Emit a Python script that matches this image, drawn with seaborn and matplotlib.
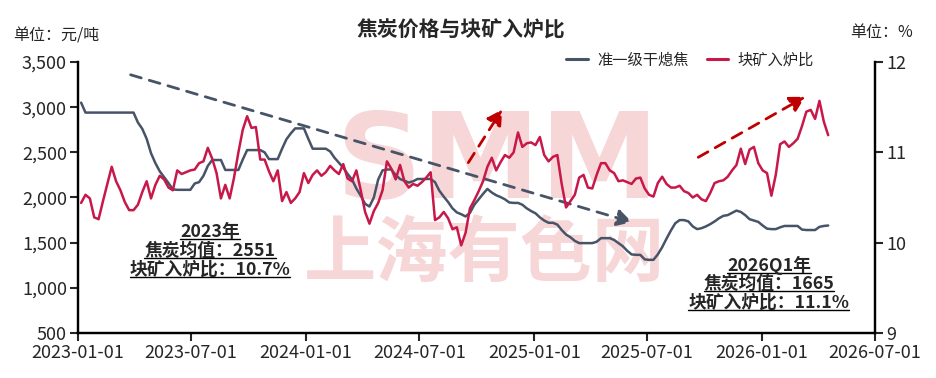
import matplotlib.pyplot as plt
import matplotlib.ticker as mticker
from matplotlib.lines import Line2D
import pandas as pd
import seaborn as sns

sns.set_style('white')
plt.rcParams['font.family'] = ['Noto Sans CJK SC', 'DejaVu Sans']
plt.rcParams['axes.unicode_minus'] = False

# weekly data, first week 2023-01-06
start_date = '2023-01-06'
coke = [3050, 2940, 2940, 2940, 2940, 2940, 2940, 2940, 2940, 2940,
        2940, 2940, 2940, 2830, 2760, 2650, 2490, 2380, 2290, 2225,
        2160, 2090, 2085, 2085, 2085, 2085, 2155, 2170, 2240, 2350,
        2415, 2415, 2415, 2305, 2305, 2305, 2305, 2420, 2525, 2525,
        2525, 2525, 2500, 2425, 2425, 2425, 2540, 2645, 2710, 2765,
        2765, 2765, 2650, 2540, 2540, 2540, 2540, 2510, 2440, 2385,
        2330, 2260, 2200, 2100, 2020, 1930, 1900, 2000, 2200, 2300,
        2310, 2310, 2250, 2205, 2185, 2165, 2180, 2205, 2205, 2205,
        2205, 2170, 2075, 2010, 1950, 1880, 1835, 1815, 1790, 1830,
        1920, 1980, 2040, 2095, 2055, 2025, 2005, 1980, 1945, 1940,
        1940, 1920, 1880, 1850, 1825, 1780, 1745, 1720, 1720, 1700,
        1640, 1590, 1560, 1520, 1495, 1495, 1495, 1495, 1510, 1550,
        1550, 1550, 1530, 1495, 1460, 1410, 1370, 1365, 1365, 1315,
        1310, 1310, 1370, 1450, 1545, 1635, 1715, 1750, 1750, 1735,
        1680, 1650, 1660, 1680, 1705, 1735, 1770, 1797, 1805, 1830,
        1855, 1840, 1805, 1760, 1745, 1730, 1690, 1655, 1650, 1650,
        1670, 1685, 1685, 1685, 1685, 1645, 1640, 1640, 1640, 1675,
        1685, 1690]
ratio = [10.44, 10.53, 10.49, 10.28, 10.26, 10.46, 10.65, 10.84, 10.68, 10.58,
         10.45, 10.36, 10.36, 10.42, 10.56, 10.68, 10.49, 10.64, 10.74, 10.70,
         10.61, 10.58, 10.80, 10.76, 10.78, 10.80, 10.81, 10.88, 10.90, 11.05,
         10.93, 10.77, 10.49, 10.64, 10.49, 10.72, 11.00, 11.25, 11.40, 11.27,
         11.28, 10.92, 10.92, 10.79, 10.68, 10.80, 10.46, 10.56, 10.44, 10.49,
         10.56, 10.77, 10.66, 10.75, 10.80, 10.74, 10.78, 10.85, 10.80, 10.76,
         10.87, 10.71, 10.68, 10.80, 10.58, 10.34, 10.21, 10.35, 10.44, 10.58,
         10.90, 10.82, 10.70, 10.86, 10.68, 10.61, 10.65, 10.63, 10.67, 10.72,
         10.78, 10.25, 10.28, 10.34, 10.27, 10.15, 10.17, 9.97, 10.11, 10.38,
         10.47, 10.57, 10.68, 10.84, 10.94, 10.80, 10.89, 10.97, 10.94, 11.00,
         11.22, 11.06, 11.10, 11.11, 11.08, 11.17, 10.97, 10.90, 10.95, 10.97,
         10.65, 10.39, 10.46, 10.53, 10.72, 10.75, 10.61, 10.60, 10.75, 10.88,
         10.88, 10.80, 10.77, 10.68, 10.69, 10.67, 10.65, 10.71, 10.72, 10.60,
         10.53, 10.51, 10.66, 10.73, 10.65, 10.61, 10.61, 10.63, 10.57, 10.55,
         10.50, 10.53, 10.48, 10.46, 10.55, 10.66, 10.68, 10.69, 10.73, 10.80,
         10.86, 11.04, 10.87, 11.03, 11.06, 10.88, 10.80, 10.77, 10.52, 10.75,
         11.09, 11.12, 11.06, 11.10, 11.15, 11.29, 11.45, 11.47, 11.37, 11.57,
         11.34, 11.19]
dates = pd.date_range(start_date, periods=len(coke), freq='7D')
xtick_labels = ['2023-01-01', '2023-07-01', '2024-01-01', '2024-07-01',
                '2025-01-01', '2025-07-01', '2026-01-01', '2026-07-01']
df = pd.DataFrame({'date': dates, 'coke': coke, 'ratio': ratio})

c_coke = '#475468'
c_ratio = '#C8184A'
c_arrow = '#C00000'
c_mark = '#F7D6D8'

W, H = 937, 378
fig = plt.figure(figsize=(W / 100, H / 100), dpi=100)
ax = fig.add_axes([78 / W, 1 - 333 / H, 797 / W, 271 / H])
ax2 = ax.twinx()

# watermark
ax.text(0.526, 0.50, 'SMM', transform=ax.transAxes, ha='center', va='baseline',
        fontsize=86, fontweight='bold', color=c_mark, zorder=0, family='DejaVu Sans')
ax.text(0.51, 0.29, '上海有色网', transform=ax.transAxes, ha='center', va='center',
        fontsize=52, fontweight='bold', color=c_mark, zorder=0)

sns.lineplot(data=df, x='date', y='coke', ax=ax, color=c_coke, lw=1.8, legend=False)
sns.lineplot(data=df, x='date', y='ratio', ax=ax2, color=c_ratio, lw=1.8, legend=False)

ax.set_ylim(500, 3500)
ax.set_yticks(range(500, 3501, 500))
ax.yaxis.set_major_formatter(mticker.StrMethodFormatter('{x:,.0f}'))
ax2.set_ylim(9, 12)
ax2.set_yticks([9, 10, 11, 12])
ax.set_xlim(pd.Timestamp('2023-01-01'), pd.Timestamp('2026-07-01'))
ax.set_xticks(pd.to_datetime(xtick_labels))
ax.set_xticklabels(xtick_labels)
for a in (ax, ax2):
    a.set_xlabel('')
    a.set_ylabel('')
    a.spines['top'].set_visible(False)
    for s in ('left', 'right', 'bottom'):
        a.spines[s].set_color('black')
        a.spines[s].set_linewidth(1.6)
ax.tick_params(axis='both', which='major', direction='out', length=6, width=1.5,
               labelsize=13, bottom=True, left=True, pad=2)
ax2.tick_params(axis='y', direction='out', length=6, width=1.5, labelsize=13, right=True, pad=2)

# trend arrows
arrow_kw = dict(arrowstyle='-|>,head_length=0.9,head_width=0.5', lw=2.0, linestyle=(0, (4, 3)))
ax.annotate('', xy=(pd.Timestamp('2025-06-11'), 1718), xytext=(pd.Timestamp('2023-03-22'), 3367),
            arrowprops=dict(color=c_coke, **arrow_kw), zorder=5)
ax2.annotate('', xy=(pd.Timestamp('2024-11-13'), 11.50), xytext=(pd.Timestamp('2024-09-15'), 10.86),
             arrowprops=dict(color=c_arrow, **arrow_kw), zorder=5)
ax2.annotate('', xy=(pd.Timestamp('2026-03-15'), 11.63), xytext=(pd.Timestamp('2025-09-17'), 10.93),
             arrowprops=dict(color=c_arrow, **arrow_kw), zorder=5)

# titles / units
fig.text(461 / W, 1 - 30 / H, '焦炭价格与块矿入炉比', ha='center', va='center',
         fontsize=15, fontweight='bold')
fig.text(13 / W, 1 - 36 / H, '单位：元/吨', ha='left', va='center', fontsize=11.5, style='italic')
fig.text(913 / W, 1 - 33 / H, '单位：%', ha='right', va='center', fontsize=11.5, style='italic')

handles = [Line2D([], [], color=c_coke, lw=2.2), Line2D([], [], color=c_ratio, lw=2.2)]
fig.legend(handles, ['准一级干熄焦', '块矿入炉比'], loc='center', bbox_to_anchor=(690 / W, 1 - 60 / H),
           ncol=2, frameon=False, fontsize=11, handlelength=1.4, columnspacing=1.2, handletextpad=0.6)

# summary notes (underlined)
notes = [
    (210, [232, 251, 270], ['2023年', '焦炭均值：2551', '块矿入炉比：10.7%']),
    (769, [265, 284, 303], ['2026Q1年', '焦炭均值：1665', '块矿入炉比：11.1%']),
]
texts = []
for cx, ys, lines in notes:
    for y, s in zip(ys, lines):
        t = fig.text(cx / W, 1 - y / H, s, ha='center', va='center', fontsize=12.8,
                     fontweight='black', style='italic', zorder=6)
        texts.append(t)

fig.canvas.draw()
renderer = fig.canvas.get_renderer()
for t in texts:
    bb = t.get_window_extent(renderer).transformed(fig.transFigure.inverted())
    fig.add_artist(Line2D([bb.x0, bb.x1], [bb.y0 + 0.004, bb.y0 + 0.004], color='black',
                          lw=1.0, transform=fig.transFigure))

fig.savefig('out.png', dpi=100)
